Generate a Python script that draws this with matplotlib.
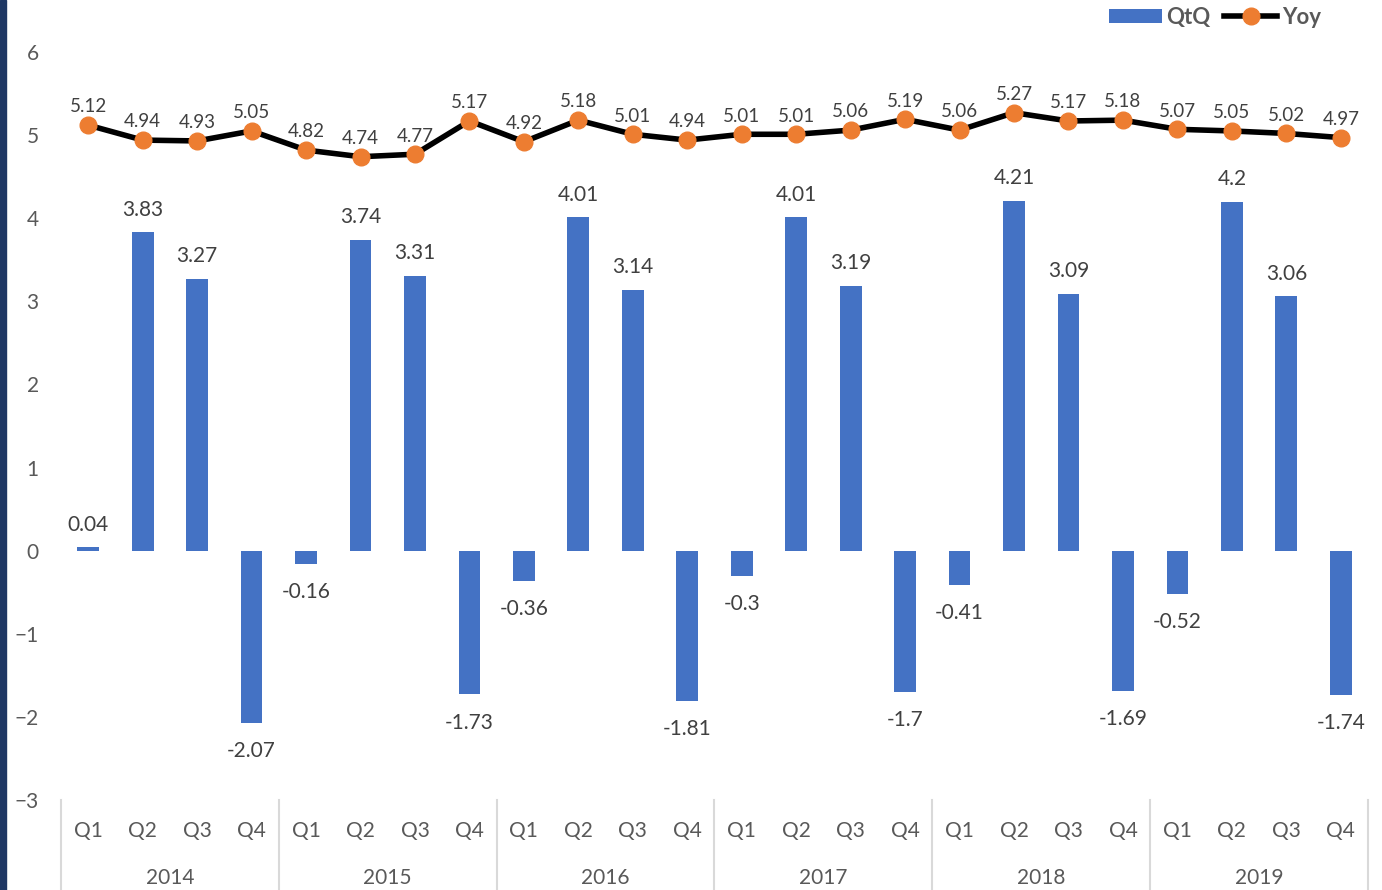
import matplotlib.pyplot as plt
from matplotlib.patches import Rectangle
import numpy as np

# data
years = ['2014', '2015', '2016', '2017', '2018', '2019']
quarters = ['Q1', 'Q2', 'Q3', 'Q4']
qtq = [0.04, 3.83, 3.27, -2.07, -0.16, 3.74, 3.31, -1.73, -0.36, 4.01, 3.14, -1.81,
       -0.3, 4.01, 3.19, -1.7, -0.41, 4.21, 3.09, -1.69, -0.52, 4.2, 3.06, -1.74]
yoy = [5.12, 4.94, 4.93, 5.05, 4.82, 4.74, 4.77, 5.17, 4.92, 5.18, 5.01, 4.94,
       5.01, 5.01, 5.06, 5.19, 5.06, 5.27, 5.17, 5.18, 5.07, 5.05, 5.02, 4.97]

plt.rcParams['font.family'] = ['Lato', 'DejaVu Sans']
GREY = '#595959'

fig = plt.figure(figsize=(13.82, 8.9), dpi=100)
ax = fig.add_axes([61 / 1382, 1 - 800 / 890, (1368 - 61) / 1382, (800 - 52) / 890])
AX_H = 748  # axes height in pixels

# dark stripe on the left edge
fig.patches.append(Rectangle((0, 0), 6 / 1382, 1, transform=fig.transFigure,
                             color='#1F3864', zorder=0))

x = np.arange(len(qtq))
bar_c = ax.bar(x, qtq, width=0.4, color='#4472C4', label='QtQ', zorder=2)
line, = ax.plot(x, yoy, color='black', lw=4, marker='o', ms=12, mfc='#ED7D31',
                mec='#ED7D31', label='Yoy', zorder=3)

# bar labels
for xi, v in zip(x, qtq):
    if v >= 0:
        ax.annotate(f'{v:g}', (xi, v), xytext=(0, 9), textcoords='offset points',
                    ha='center', va='bottom', fontsize=15, color='#404040')
    else:
        ax.annotate(f'{v:g}', (xi, v), xytext=(0, -13), textcoords='offset points',
                    ha='center', va='top', fontsize=15, color='#404040')

# line labels
for xi, v in zip(x, yoy):
    ax.annotate(f'{v:.2f}', (xi, v), xytext=(0, 7), textcoords='offset points',
                ha='center', va='bottom', fontsize=13.5, color='#404040')

ax.set_xlim(-0.5, len(qtq) - 0.5)
ax.set_ylim(-3, 6)
ax.set_yticks(range(-3, 7))
ax.tick_params(axis='y', length=0, pad=16, labelsize=15, labelcolor=GREY)
ax.set_xticks([])
for s in ax.spines.values():
    s.set_visible(False)

# two-level category axis
xt = ax.get_xaxis_transform()
for i in range(len(qtq)):
    ax.text(i, -31 / AX_H, quarters[i % 4], transform=xt,
            ha='center', va='center', fontsize=15, color=GREY)
for j, yr in enumerate(years):
    ax.text(j * 4 + 1.5, -78 / AX_H, yr, transform=xt,
            ha='center', va='center', fontsize=15, color=GREY)
for k in range(len(years) + 1):
    ax.plot([k * 4 - 0.5, k * 4 - 0.5], [0, -90 / AX_H], transform=xt,
            color='#D9D9D9', lw=1.5, clip_on=False)

fig.legend([bar_c, line], ['QtQ', 'Yoy'], loc='upper right',
           bbox_to_anchor=(1332 / 1382, 1.005), ncol=2, frameon=False,
           prop={'weight': 'bold', 'size': 16}, labelcolor=GREY, handlelength=2.4,
           handleheight=0.6, handletextpad=0.2, columnspacing=0.6, borderaxespad=0.1)

fig.savefig('out.png', dpi=100)
